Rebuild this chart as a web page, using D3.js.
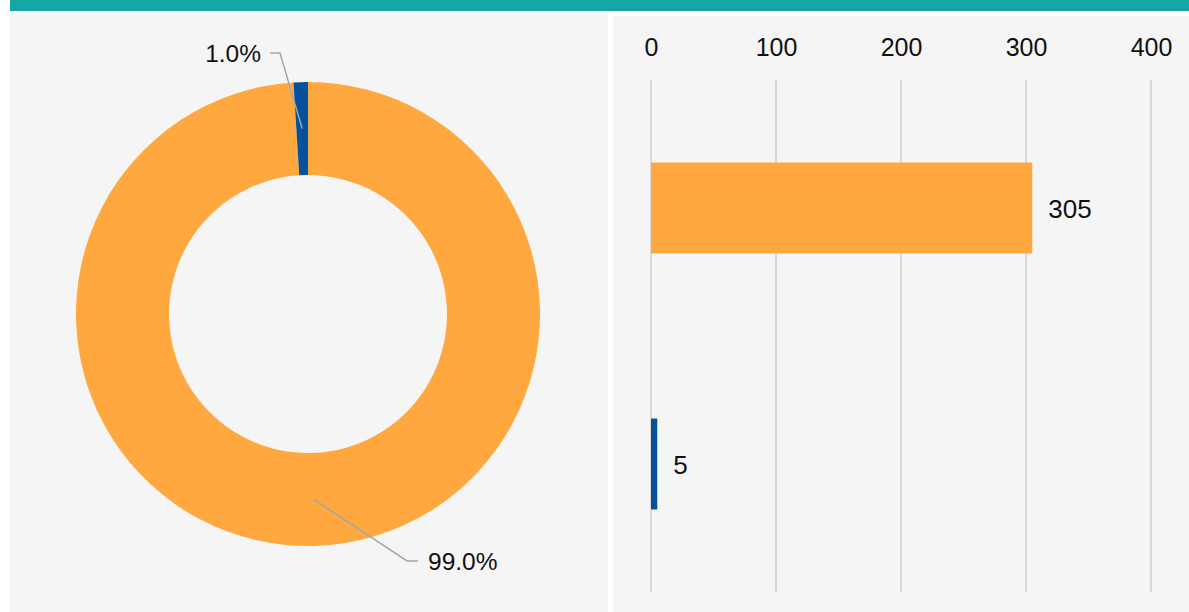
<!DOCTYPE html>
<html>
<head>
<meta charset="utf-8">
<script src="https://cdn.jsdelivr.net/npm/d3@7"></script>
<style>
  html, body { margin: 0; padding: 0; background: #ffffff; }
  svg { display: block; font-family: "Liberation Sans", Arial, sans-serif; }
</style>
</head>
<body>
<svg id="chart" width="1189" height="612"></svg>
<script>
// Two groups: share (donut) and count (horizontal bars)
const categories = ["A", "B"];
const shareValues = [99.0, 1.0];        // percent
const shareLabels = ["99.0%", "1.0%"];
const countValues = [305, 5];
const tickValues = [0, 100, 200, 300, 400];
const colors = ["#FEA83F", "#03529B"];

const svg = d3.select("#chart");

// header strip and panels
svg.append("rect").attr("x", 10).attr("y", 0).attr("width", 1179).attr("height", 11).attr("fill", "#17A5A5");
svg.append("rect").attr("x", 10).attr("y", 11).attr("width", 598).attr("height", 601).attr("fill", "#F5F5F5");
svg.append("rect").attr("x", 613).attr("y", 16).attr("width", 576).attr("height", 596).attr("fill", "#F5F5F5");

// ---- donut ----
const cx = 308, cy = 314, rOuter = 232, rInner = 139;
const pie = d3.pie().sort(null).value(d => d)(shareValues);
const arc = d3.arc().innerRadius(rInner).outerRadius(rOuter);
const g = svg.append("g").attr("transform", `translate(${cx},${cy})`);
g.selectAll("path.slice").data(pie).join("path")
  .attr("class", "slice")
  .attr("d", arc)
  .attr("fill", (d, i) => colors[i]);

// leader lines: centroid -> elbow -> end, label beyond end
const labelLayout = [
  { elbow: [99, 247], end: [110, 247], anchor: "start", text: [120, 247] },
  { elbow: [-28, -261], end: [-38, -261], anchor: "end", text: [-47, -261] }
];
pie.forEach((d, i) => {
  const c = arc.centroid(d);
  const L = labelLayout[i];
  g.append("polyline")
    .attr("points", [c, L.elbow, L.end].map(p => p.join(",")).join(" "))
    .attr("fill", "none").attr("stroke", "#A6A6A6").attr("stroke-width", 1.5);
  g.append("text")
    .attr("x", L.text[0]).attr("y", L.text[1])
    .attr("dy", "0.35em")
    .attr("text-anchor", L.anchor)
    .attr("font-size", 24.5)
    .attr("fill", "#111")
    .text(shareLabels[i]);
});

// ---- bars ----
const x = d3.scaleLinear().domain([0, 400]).range([651, 1151]);
const y = d3.scaleBand().domain(categories).range([80, 592]).padding(0);
const barH = y.bandwidth() * 0.355;

svg.append("g").selectAll("line").data(tickValues).join("line")
  .attr("x1", d => x(d)).attr("x2", d => x(d))
  .attr("y1", 80).attr("y2", 592)
  .attr("stroke", "#D9D9D9").attr("stroke-width", 2);

const axis = d3.axisTop(x).tickValues(tickValues).tickSize(0).tickPadding(0);
const ax = svg.append("g").attr("transform", "translate(0,47)").call(axis);
ax.select(".domain").remove();
ax.selectAll("text")
  .attr("font-size", 25)
  .attr("font-family", "Liberation Sans, Arial, sans-serif")
  .attr("fill", "#111")
  .attr("dy", "0.35em");

svg.append("g").selectAll("rect").data(countValues).join("rect")
  .attr("x", x(0))
  .attr("y", (d, i) => y(categories[i]) + (y.bandwidth() - barH) / 2)
  .attr("width", d => x(d) - x(0))
  .attr("height", barH)
  .attr("fill", (d, i) => colors[i]);

svg.append("g").selectAll("text").data(countValues).join("text")
  .attr("x", d => x(d) + 16)
  .attr("y", (d, i) => y(categories[i]) + y.bandwidth() / 2 + 1)
  .attr("dy", "0.35em")
  .attr("font-size", 26)
  .attr("fill", "#111")
  .text(d => d);
</script>
</body>
</html>
